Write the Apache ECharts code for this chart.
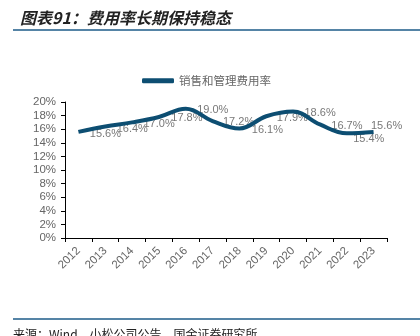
<!DOCTYPE html>
<html>
<head>
<meta charset="utf-8">
<script src="https://cdn.jsdelivr.net/npm/echarts@6/dist/echarts.min.js"></script>
<style>html,body{margin:0;padding:0;background:#fff;}#c{width:420px;height:336px;}</style>
</head>
<body>
<div id="c"></div>
<script>
const years = ['2012','2013','2014','2015','2016','2017','2018','2019','2020','2021','2022','2023'];
const expenseRate = [15.6, 16.4, 17.0, 17.8, 19.0, 17.2, 16.1, 17.9, 18.6, 16.7, 15.4, 15.6];
const yTicks = { min: 0, max: 20, interval: 2 };
const seriesName = '销售和管理费用率';
const titleText = '图表91：费用率长期保持稳态';
const sourceText = '来源：Wind，小松公司公告，国金证券研究所';

const labelOffsets = [[27,2],[27,2],[27,2],[28,1],[27,1],[26,1],[28,1],[26,2],[27,1],[27,2],[22,6],[13,-6]];

const chart = echarts.init(document.getElementById('c'), null, {renderer:'canvas'});
chart.setOption({
  animation: false,
  textStyle: { fontFamily: 'Liberation Sans, Arial, sans-serif' },
  legend: {
    data: [{ name: seriesName, icon: 'roundRect' }],
    left: 137, top: 70,
    itemWidth: 32, itemHeight: 5, itemGap: 5,
    textStyle: { color: '#666', fontSize: 11.5, fontFamily: 'Noto Sans CJK SC' }
  },
  grid: { left: 65, right: 33, top: 102, bottom: 98 },
  xAxis: {
    type: 'category',
    data: years,
    boundaryGap: true,
    axisLine: { lineStyle: { color: '#000', width: 1 } },
    axisTick: { show: true, length: 4, lineStyle: { color: '#000' } },
    axisLabel: { rotate: 45, color: '#666', fontSize: 11.5, margin: 11 }
  },
  yAxis: {
    type: 'value',
    min: yTicks.min, max: yTicks.max, interval: yTicks.interval,
    axisLine: { show: true, lineStyle: { color: '#000', width: 1 } },
    axisTick: { show: true, length: 4, lineStyle: { color: '#000' } },
    splitLine: { show: false },
    axisLabel: { formatter: '{value}%', color: '#666', fontSize: 11.5, margin: 9 }
  },
  graphic: [
    { type: 'text', left: 20, top: 10, style: { text: titleText, fontSize: 16, fontStyle: 'italic', fontWeight: 'bold', fill: '#222', fontFamily: 'Noto Sans CJK SC' } },
    { type: 'rect', shape: { x: 13, y: 29, width: 407, height: 2 }, style: { fill: '#5584a6' } },
    { type: 'rect', shape: { x: 13, y: 318, width: 407, height: 2 }, style: { fill: '#5584a6' } },
    { type: 'text', left: 13, top: 328, style: { text: sourceText, fontSize: 12, fill: '#222', fontFamily: 'Noto Sans CJK SC' } }
  ],
  series: [
    {
      name: seriesName,
      type: 'line',
      data: expenseRate,
      smooth: 0.4,
      symbol: 'none',
      lineStyle: { color: '#0d4e72', width: 4 },
      itemStyle: { color: '#0d4e72' }
    },
    {
      name: 'labels',
      type: 'scatter',
      data: expenseRate.map((v, i) => ({
        value: v,
        label: { offset: labelOffsets[i] }
      })),
      symbolSize: 0,
      silent: true,
      label: {
        show: true, position: 'inside',
        formatter: p => p.value.toFixed(1) + '%',
        color: '#555', fontSize: 11
      }
    }
  ]
});
</script>
</body>
</html>
